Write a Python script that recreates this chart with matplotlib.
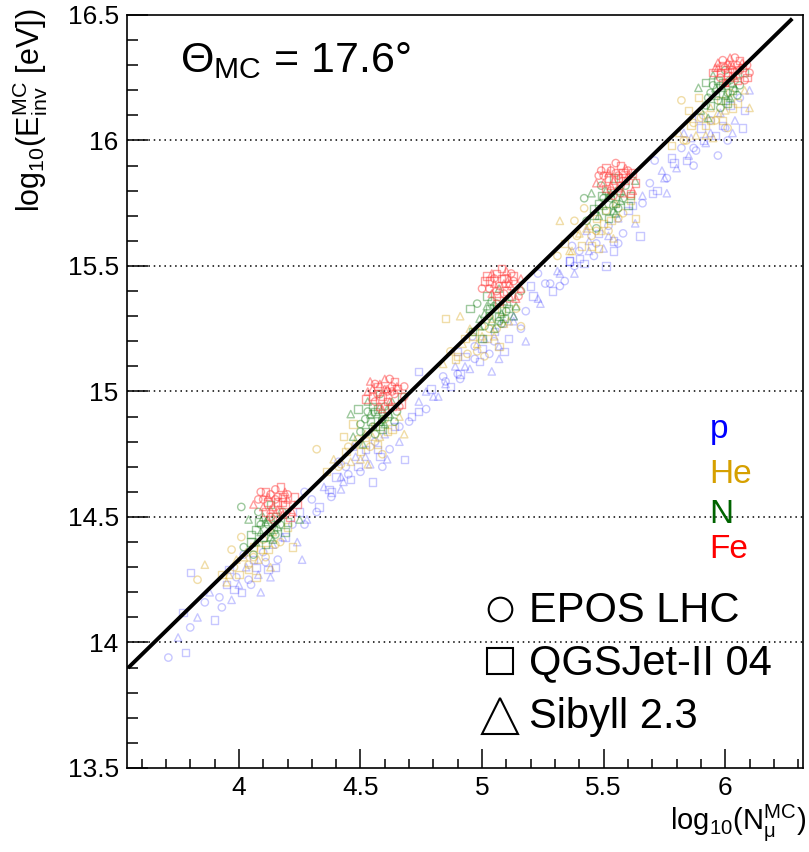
import numpy as np
import matplotlib
matplotlib.use("Agg")
import matplotlib.pyplot as plt

plt.rcParams['font.family'] = ['Liberation Sans', 'DejaVu Sans']
plt.rcParams['mathtext.fontset'] = 'custom'
plt.rcParams['mathtext.rm'] = 'Liberation Sans'
plt.rcParams['mathtext.it'] = 'Liberation Sans:italic'

# log10(N_mu), log10(E_inv) per primary, one row per energy bin
p_n = [3.71, 3.78, 3.75, 3.80, 3.77, 3.83, 3.86, 3.90, 3.88, 3.93, 3.95, 3.97, 3.99, 4.01, 4.03, 4.05, 4.06, 4.08, 4.10, 4.12, 4.14, 4.02, 3.96, 4.09, 4.16, 4.19, 4.24, 4.27, 3.80, 4.26, 4.32, 4.38, 4.42, 4.04, 4.07, 4.00, 4.11, 3.98, 4.13, 3.92, 4.15,
       4.18, 4.22, 4.25, 4.28, 4.30, 4.33, 4.35, 4.38, 4.40, 4.42, 4.44, 4.46, 4.48, 4.50, 4.52, 4.54, 4.56, 4.58, 4.60, 4.62, 4.64, 4.47, 4.41, 4.55, 4.66, 4.70, 4.74, 4.80, 4.27, 4.68, 4.85, 4.90, 4.49, 4.52, 4.45, 4.57, 4.43, 4.59, 4.37, 4.61,
       4.66, 4.71, 4.74, 4.77, 4.79, 4.82, 4.84, 4.87, 4.89, 4.91, 4.93, 4.95, 4.97, 4.99, 5.01, 5.03, 5.05, 5.07, 5.09, 5.11, 5.13, 4.96, 4.90, 5.04, 5.16, 5.20, 5.23, 5.28, 4.74, 5.18, 5.32, 5.36, 4.77, 4.97, 5.00, 4.93, 5.05, 4.91, 5.07, 4.85, 5.09,
       5.13, 5.18, 5.21, 5.24, 5.26, 5.29, 5.31, 5.34, 5.36, 5.38, 5.40, 5.42, 5.44, 5.46, 5.48, 5.50, 5.52, 5.54, 5.56, 5.58, 5.60, 5.43, 5.37, 5.51, 5.63, 5.66, 5.70, 5.75, 5.23, 5.65, 5.44, 5.47, 5.40, 5.52, 5.38, 5.54, 5.32, 5.56,
       5.62, 5.66, 5.69, 5.72, 5.74, 5.76, 5.78, 5.80, 5.82, 5.84, 5.86, 5.88, 5.90, 5.92, 5.94, 5.96, 5.98, 6.00, 6.02, 6.04, 6.06, 5.89, 5.83, 5.97, 6.08, 6.10, 5.71, 6.07, 5.76, 5.87, 5.91, 5.94, 5.87, 5.99, 5.85, 6.01, 5.79, 6.03]
p_e = [13.94, 13.96, 14.02, 14.06, 14.12, 14.10, 14.16, 14.09, 14.20, 14.14, 14.23, 14.17, 14.26, 14.20, 14.30, 14.23, 14.33, 14.27, 14.36, 14.29, 14.39, 14.35, 14.29, 14.20, 14.33, 14.42, 14.40, 14.47, 14.28, 14.33, 14.52, 14.60, 14.66, 14.25, 14.30, 14.23, 14.32, 14.21, 14.26, 14.18, 14.30,
       14.42, 14.47, 14.52, 14.49, 14.57, 14.54, 14.62, 14.58, 14.66, 14.61, 14.70, 14.65, 14.74, 14.68, 14.77, 14.71, 14.80, 14.74, 14.83, 14.77, 14.86, 14.78, 14.72, 14.64, 14.80, 14.88, 14.92, 14.98, 14.60, 14.73, 15.03, 15.07, 14.70, 14.74, 14.67, 14.77, 14.64, 14.70, 14.61, 14.73,
       14.86, 14.90, 14.96, 14.93, 15.01, 14.98, 15.06, 15.02, 15.10, 15.05, 15.14, 15.09, 15.18, 15.12, 15.21, 15.15, 15.24, 15.18, 15.27, 15.21, 15.30, 15.22, 15.16, 15.08, 15.25, 15.42, 15.37, 15.43, 15.08, 15.20, 15.42, 15.52, 15.00, 15.13, 15.17, 15.10, 15.20, 15.07, 15.13, 15.04, 15.16,
       15.28, 15.32, 15.38, 15.35, 15.43, 15.40, 15.48, 15.44, 15.52, 15.47, 15.56, 15.51, 15.60, 15.54, 15.63, 15.57, 15.66, 15.60, 15.69, 15.63, 15.72, 15.64, 15.58, 15.50, 15.67, 15.75, 15.79, 15.85, 15.47, 15.62, 15.56, 15.59, 15.53, 15.62, 15.50, 15.56, 15.47, 15.59,
       15.74, 15.78, 15.83, 15.80, 15.88, 15.85, 15.93, 15.89, 15.97, 15.92, 16.01, 15.96, 16.05, 15.99, 16.08, 16.02, 16.11, 16.05, 16.14, 16.08, 16.17, 16.09, 16.03, 15.94, 16.12, 16.20, 15.92, 16.05, 15.79, 15.90, 16.00, 16.03, 15.97, 16.06, 15.94, 16.00, 15.91, 16.03]

he_n = [3.83, 3.93, 3.95, 3.98, 4.00, 4.02, 4.04, 4.06, 4.08, 4.10, 4.12, 4.14, 4.17, 4.20, 3.86, 3.97, 4.07, 4.13, 4.01, 4.22, 4.03, 4.06, 4.09, 3.99, 4.11, 4.04, 3.96, 4.15,
        4.36, 4.39, 4.41, 4.44, 4.46, 4.48, 4.50, 4.52, 4.54, 4.56, 4.58, 4.60, 4.63, 4.66, 4.32, 4.43, 4.53, 4.59, 4.47, 4.68, 4.49, 4.52, 4.55, 4.45, 4.57, 4.50, 4.42, 4.61,
        4.84, 4.87, 4.89, 4.92, 4.94, 4.96, 4.98, 5.00, 5.02, 5.04, 5.06, 5.08, 5.11, 5.14, 4.85, 4.91, 5.01, 5.07, 4.95, 5.16, 4.97, 5.00, 5.03, 4.93, 5.05, 4.98, 4.90, 5.09,
        5.31, 5.34, 5.36, 5.39, 5.41, 5.43, 5.45, 5.47, 5.49, 5.51, 5.53, 5.55, 5.58, 5.61, 5.32, 5.38, 5.48, 5.54, 5.42, 5.63, 5.44, 5.47, 5.50, 5.40, 5.52, 5.45, 5.37, 5.56,
        5.78, 5.81, 5.83, 5.86, 5.88, 5.90, 5.92, 5.94, 5.96, 5.98, 6.00, 6.02, 6.05, 6.08, 5.82, 5.85, 5.95, 6.01, 5.89, 6.10, 5.91, 5.94, 5.97, 5.87, 5.99, 5.92, 5.84, 6.03]
he_e = [14.25, 14.27, 14.24, 14.30, 14.27, 14.34, 14.31, 14.38, 14.33, 14.41, 14.37, 14.44, 14.40, 14.46, 14.31, 14.37, 14.26, 14.30, 14.42, 14.38, 14.36, 14.34, 14.37, 14.33, 14.34, 14.29, 14.27, 14.39,
        14.68, 14.73, 14.70, 14.76, 14.72, 14.79, 14.76, 14.83, 14.78, 14.86, 14.82, 14.89, 14.85, 14.90, 14.77, 14.82, 14.71, 14.75, 14.87, 14.83, 14.81, 14.79, 14.82, 14.78, 14.79, 14.73, 14.71, 14.84,
        15.11, 15.16, 15.13, 15.19, 15.15, 15.22, 15.19, 15.26, 15.21, 15.29, 15.25, 15.32, 15.28, 15.33, 15.29, 15.30, 15.14, 15.18, 15.25, 15.26, 15.24, 15.22, 15.25, 15.21, 15.22, 15.16, 15.14, 15.27,
        15.54, 15.59, 15.56, 15.62, 15.58, 15.65, 15.62, 15.69, 15.64, 15.72, 15.68, 15.75, 15.71, 15.76, 15.68, 15.68, 15.57, 15.61, 15.73, 15.69, 15.66, 15.64, 15.67, 15.63, 15.64, 15.58, 15.56, 15.69,
        15.98, 16.03, 16.00, 16.06, 16.02, 16.09, 16.06, 16.13, 16.08, 16.16, 16.12, 16.19, 16.15, 16.20, 16.16, 16.12, 16.01, 16.05, 16.17, 16.13, 16.10, 16.08, 16.11, 16.07, 16.08, 16.02, 16.00, 16.13]

n_n = [4.02, 4.05, 4.07, 4.09, 4.10, 4.12, 4.13, 4.15, 4.16, 4.18, 4.20, 4.04, 4.08, 4.11, 4.14, 4.06, 4.19, 4.25, 4.01, 4.13, 4.09, 4.12, 4.14, 4.10, 4.16, 4.07, 4.13, 4.17, 4.05, 4.11, 4.15, 4.08,
       4.47, 4.50, 4.52, 4.54, 4.55, 4.57, 4.58, 4.60, 4.61, 4.63, 4.65, 4.49, 4.53, 4.56, 4.59, 4.51, 4.64, 4.67, 4.46, 4.58, 4.54, 4.57, 4.59, 4.55, 4.61, 4.52, 4.58, 4.62, 4.50, 4.56, 4.60, 4.53,
       4.96, 4.99, 5.01, 5.03, 5.04, 5.06, 5.07, 5.09, 5.10, 5.12, 5.14, 4.98, 5.02, 5.05, 5.08, 5.00, 5.13, 5.16, 4.95, 5.07, 5.03, 5.06, 5.08, 5.04, 5.10, 5.01, 5.07, 5.11, 4.99, 5.05, 5.09, 5.02,
       5.43, 5.46, 5.48, 5.50, 5.51, 5.53, 5.54, 5.56, 5.57, 5.59, 5.61, 5.45, 5.49, 5.52, 5.55, 5.47, 5.60, 5.63, 5.42, 5.54, 5.50, 5.53, 5.55, 5.51, 5.57, 5.48, 5.54, 5.58, 5.46, 5.52, 5.56, 5.49,
       5.90, 5.93, 5.94, 5.96, 5.97, 5.99, 6.00, 6.02, 6.03, 6.05, 6.06, 5.92, 5.95, 5.98, 6.01, 5.93, 6.05, 6.08, 5.89, 6.00, 5.96, 5.99, 6.01, 5.97, 6.03, 5.94, 6.00, 6.04, 5.92, 5.98, 6.02, 5.95]
n_e = [14.38, 14.43, 14.40, 14.47, 14.42, 14.49, 14.44, 14.50, 14.46, 14.52, 14.48, 14.49, 14.52, 14.39, 14.41, 14.35, 14.44, 14.49, 14.54, 14.55, 14.44, 14.47, 14.45, 14.50, 14.49, 14.45, 14.42, 14.47, 14.40, 14.48, 14.43, 14.48,
       14.82, 14.87, 14.84, 14.91, 14.86, 14.93, 14.88, 14.94, 14.90, 14.96, 14.92, 14.93, 14.96, 14.83, 14.85, 14.79, 14.88, 14.98, 14.91, 14.99, 14.88, 14.91, 14.89, 14.94, 14.93, 14.89, 14.86, 14.91, 14.84, 14.92, 14.87, 14.92,
       15.24, 15.29, 15.26, 15.33, 15.28, 15.35, 15.30, 15.36, 15.32, 15.38, 15.34, 15.35, 15.38, 15.25, 15.27, 15.21, 15.30, 15.40, 15.33, 15.41, 15.30, 15.33, 15.31, 15.36, 15.35, 15.31, 15.28, 15.33, 15.26, 15.34, 15.29, 15.34,
       15.68, 15.73, 15.70, 15.77, 15.72, 15.79, 15.74, 15.80, 15.76, 15.82, 15.78, 15.79, 15.82, 15.69, 15.71, 15.65, 15.74, 15.84, 15.77, 15.85, 15.74, 15.77, 15.75, 15.80, 15.79, 15.75, 15.72, 15.77, 15.70, 15.78, 15.73, 15.78,
       16.12, 16.17, 16.14, 16.21, 16.16, 16.23, 16.18, 16.24, 16.20, 16.26, 16.22, 16.23, 16.26, 16.13, 16.15, 16.09, 16.18, 16.27, 16.21, 16.28, 16.18, 16.21, 16.19, 16.24, 16.23, 16.19, 16.16, 16.21, 16.14, 16.22, 16.17, 16.22]

fe_n = [4.08, 4.11, 4.13, 4.16, 4.19, 4.22, 4.14, 4.17, 4.10, 4.20, 4.12, 4.18, 4.15, 4.24, 4.06, 4.13, 4.21, 4.16, 4.09, 4.18, 4.12, 4.15, 4.18, 4.14, 4.17, 4.11, 4.20, 4.13, 4.16, 4.19, 4.10, 4.23,
        4.53, 4.56, 4.58, 4.61, 4.64, 4.67, 4.59, 4.62, 4.55, 4.65, 4.57, 4.63, 4.60, 4.68, 4.52, 4.58, 4.66, 4.61, 4.54, 4.63, 4.57, 4.60, 4.63, 4.59, 4.62, 4.56, 4.65, 4.58, 4.61, 4.64, 4.55, 4.68,
        5.01, 5.04, 5.06, 5.09, 5.12, 5.15, 5.07, 5.10, 5.03, 5.13, 5.05, 5.11, 5.08, 5.16, 5.00, 5.06, 5.14, 5.09, 5.02, 5.11, 5.05, 5.08, 5.11, 5.07, 5.10, 5.04, 5.13, 5.06, 5.09, 5.12, 5.03, 5.16,
        5.48, 5.51, 5.53, 5.56, 5.59, 5.62, 5.54, 5.57, 5.50, 5.60, 5.52, 5.58, 5.55, 5.63, 5.47, 5.53, 5.61, 5.56, 5.49, 5.58, 5.52, 5.55, 5.58, 5.54, 5.57, 5.51, 5.60, 5.53, 5.56, 5.59, 5.50, 5.62,
        5.96, 5.99, 6.01, 6.03, 6.06, 6.09, 6.00, 6.04, 5.98, 6.07, 6.00, 6.05, 6.02, 6.10, 5.95, 6.01, 6.08, 6.03, 5.97, 6.05, 5.99, 6.02, 6.05, 6.01, 6.04, 5.98, 6.07, 6.00, 6.03, 6.06, 5.97, 6.09]
fe_e = [14.57, 14.60, 14.53, 14.58, 14.55, 14.52, 14.49, 14.62, 14.54, 14.59, 14.56, 14.51, 14.57, 14.55, 14.55, 14.59, 14.50, 14.53, 14.60, 14.56, 14.58, 14.61, 14.58, 14.54, 14.52, 14.52, 14.57, 14.50, 14.56, 14.60, 14.57, 14.58,
        15.00, 15.03, 14.97, 15.01, 14.99, 14.95, 14.93, 15.05, 14.98, 15.02, 14.99, 14.94, 15.01, 14.98, 14.97, 15.03, 14.94, 14.96, 15.04, 15.00, 15.02, 15.05, 15.02, 14.98, 14.96, 14.96, 15.01, 14.94, 15.00, 15.04, 15.01, 15.02,
        15.44, 15.47, 15.40, 15.45, 15.42, 15.38, 15.36, 15.48, 15.41, 15.46, 15.43, 15.37, 15.45, 15.41, 15.41, 15.47, 15.37, 15.39, 15.46, 15.43, 15.45, 15.49, 15.45, 15.42, 15.40, 15.39, 15.44, 15.38, 15.43, 15.47, 15.44, 15.45,
        15.86, 15.89, 15.82, 15.86, 15.84, 15.80, 15.78, 15.90, 15.83, 15.88, 15.85, 15.79, 15.87, 15.83, 15.83, 15.88, 15.79, 15.81, 15.88, 15.85, 15.87, 15.91, 15.87, 15.84, 15.82, 15.81, 15.86, 15.80, 15.85, 15.89, 15.86, 15.87,
        16.29, 16.32, 16.26, 16.30, 16.28, 16.25, 16.23, 16.33, 16.27, 16.31, 16.29, 16.24, 16.30, 16.27, 16.27, 16.31, 16.24, 16.26, 16.31, 16.28, 16.30, 16.33, 16.30, 16.27, 16.25, 16.25, 16.29, 16.23, 16.28, 16.32, 16.29, 16.30]

# calibration line end points
fit_n = [3.55, 6.27]
fit_e = [13.904, 16.48]

models = ['EPOS LHC', 'QGSJet-II 04', 'Sibyll 2.3']
model_markers = ['o', 's', '^']
primaries = ['p', 'He', 'N', 'Fe']
marker_colors = [(0.0, 0.0, 1.0, 0.22), (0.85, 0.65, 0.1, 0.38), (0.1, 0.5, 0.1, 0.42), (1.0, 0.25, 0.25, 0.5)]
label_colors = ['#0000ff', '#d6a000', '#006400', '#ff0000']
series = [(p_n, p_e), (he_n, he_e), (n_n, n_e), (fe_n, fe_e)]

fig = plt.figure(figsize=(8.09, 8.52), dpi=100)
ax = fig.add_axes([0.157, 0.0986, 0.8356, 0.8838])

for (xs, ys), col in zip(series, marker_colors):
    xs = np.array(xs)
    ys = np.array(ys)
    idx = np.arange(len(xs)) % 3
    for m in range(3):
        ax.scatter(xs[idx == m], ys[idx == m], marker=model_markers[m], s=28,
                   facecolors='none', edgecolors=[col], linewidths=1.0, zorder=2)

ax.plot(fit_n, fit_e, color='black', lw=2.8, zorder=4)

ax.set_xlim(3.54, 6.32)
ax.set_ylim(13.5, 16.5)
ax.set_xticks([4, 4.5, 5, 5.5, 6])
ax.set_xticklabels(['4', '4.5', '5', '5.5', '6'])
ax.set_yticks([13.5, 14, 14.5, 15, 15.5, 16, 16.5])
ax.set_yticklabels(['13.5', '14', '14.5', '15', '15.5', '16', '16.5'])
ax.set_xticks(np.arange(3.6, 6.35, 0.1), minor=True)
ax.set_yticks(np.arange(13.6, 16.45, 0.1), minor=True)
ax.tick_params(which='both', direction='in', top=False, right=False, labelsize=19)
ax.tick_params(axis='x', which='major', length=13.5, width=1.1, pad=6)
ax.tick_params(axis='x', which='minor', length=6.5, width=1.1)
ax.tick_params(axis='y', which='major', length=15, width=1.1, pad=6)
ax.tick_params(axis='y', which='minor', length=8, width=1.1)
for s in ax.spines.values():
    s.set_linewidth(1.2)
for yv in [14, 14.5, 15, 15.5, 16]:
    ax.axhline(yv, color='black', lw=1.1, ls=(0, (1, 2.5)), zorder=1)

ax.text(0.078, 0.924, r'$\Theta_{\mathrm{MC}}$ = 17.6°', transform=ax.transAxes,
        fontsize=31, va='baseline', ha='left')

for lab, col, yy in zip(primaries, label_colors, [0.438, 0.378, 0.325, 0.279]):
    ax.text(0.862, yy, lab, color=col, fontsize=24, transform=ax.transAxes, va='baseline', ha='left')

for name, mk, ym, yt, ms in zip(models, model_markers, [0.211, 0.142, 0.069], [0.194, 0.125, 0.053], [17, 19, 26]):
    ax.plot([0.552], [ym], marker=mk, ms=ms, mfc='none', mec='black', mew=1.5, transform=ax.transAxes)
    ax.text(0.595, yt, name, fontsize=30, transform=ax.transAxes, va='baseline', ha='left')

fig.text(0.037, 0.99, r'log$_{10}$(E$_{\mathrm{inv}}^{\mathrm{MC}}$ [eV])', rotation=90, fontsize=22,
         ha='center', va='top')
fig.text(0.996, 0.027, r'log$_{10}$(N$_{\mathrm{μ}}^{\mathrm{MC}}$)', fontsize=21, ha='right', va='baseline')

fig.savefig('out.png', dpi=100)
